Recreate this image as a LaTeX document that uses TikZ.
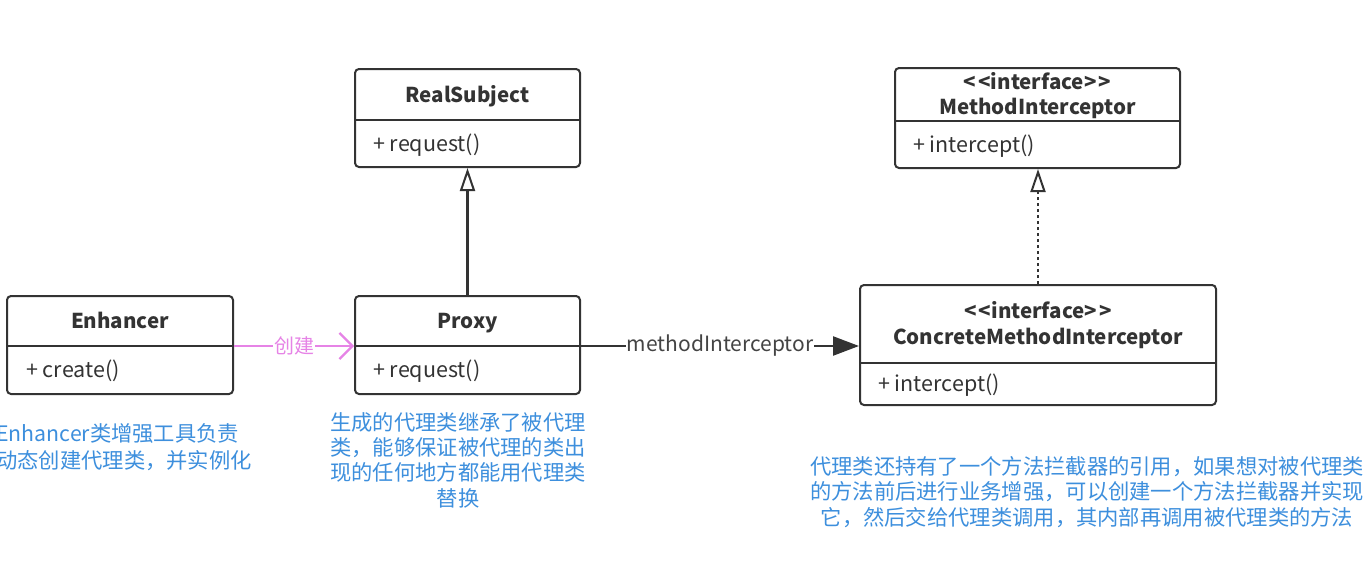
\documentclass[tikz,border=0pt]{standalone}
\usepackage{fontspec}
\setmainfont{Noto Sans CJK SC}
\usetikzlibrary{arrows.meta}
\definecolor{boxline}{HTML}{333333}
\definecolor{notetxt}{HTML}{3D8FDD}
\definecolor{pinkline}{HTML}{E683E6}
\definecolor{lbltxt}{HTML}{444444}
\newcommand{\stereo}[1]{{<}\kern2pt{<}#1{>}\kern2pt{>}}
\tikzset{
  classbox/.style={draw=boxline, line width=2pt, rounded corners=4pt, fill=white, inner sep=0pt},
  divline/.style={draw=boxline, line width=2pt},
  ctitle/.style={font=\fontsize{20.5}{24}\selectfont\bfseries, text=boxline, inner sep=0pt, anchor=base},
  cmember/.style={font=\fontsize{21.5}{24}\selectfont, text=boxline, inner sep=0pt, anchor=base west},
  note/.style={font=\fontsize{21.3}{25.4}\selectfont, text=notetxt, inner sep=0pt},
  inherit/.style={draw=boxline, line width=2.4pt, -{Triangle[open, length=23pt, width=15pt, line width=2pt]}},
  realize/.style={draw=boxline, line width=2.2pt, dash pattern=on 3pt off 3pt, -{Triangle[open, length=23pt, width=15pt, line width=2pt]}},
  assoc/.style={draw=boxline, line width=2.4pt, -{Triangle[length=26pt, width=19pt]}},
  create/.style={draw=pinkline, line width=2.2pt, -{Straight Barb[length=13pt, width=26pt, line width=2.2pt]}},
}
\begin{document}
\begin{tikzpicture}[x=1pt, y=-1pt]
\useasboundingbox (0,0) rectangle (1364,586);
\fill[white] (0,0) rectangle (1364,586);

% RealSubject
\node[classbox, minimum width=225pt, minimum height=98pt] (rs) at (467.5,118) {};
\draw[divline] (rs.west |- 0,120) -- (rs.east |- 0,120);
\node[ctitle] (rsT) at (467.5,102) {RealSubject};
\node[cmember] (rsM) at (373,151) {+ request()};

% MethodInterceptor
\node[classbox, minimum width=285pt, minimum height=100pt] (mi) at (1037.5,118) {};
\draw[divline] (mi.west |- 0,121) -- (mi.east |- 0,121);
\node[ctitle] (miT1) at (1037.5,89) {\stereo{interface}};
\node[ctitle] (miT2) at (1037.5,114) {MethodInterceptor};
\node[cmember] (miM) at (913,152) {+ intercept()};

% Enhancer
\node[classbox, minimum width=226pt, minimum height=98pt] (en) at (120,345) {};
\draw[divline] (en.west |- 0,346) -- (en.east |- 0,346);
\node[ctitle] (enT) at (120,328) {Enhancer};
\node[cmember] (enM) at (26,377) {+ create()};

% Proxy
\node[classbox, minimum width=225pt, minimum height=98pt] (px) at (467.5,345) {};
\draw[divline] (px.west |- 0,346) -- (px.east |- 0,346);
\node[ctitle] (pxT) at (467.5,328) {Proxy};
\node[cmember] (pxM) at (373,377) {+ request()};

% ConcreteMethodInterceptor
\node[classbox, minimum width=356pt, minimum height=120pt] (cm) at (1038,345) {};
\draw[divline] (cm.west |- 0,363) -- (cm.east |- 0,363);
\node[ctitle] (cmT1) at (1038,318) {\stereo{interface}};
\node[ctitle] (cmT2) at (1038,344) {ConcreteMethodInterceptor};
\node[cmember] (cmM) at (878,391) {+ intercept()};

% connectors
\draw[inherit] (px.north) -- (rs.south);
\draw[realize] (cm.north) -- (cm.north |- mi.south);
\draw[create] (en.east |- 0,346) -- node[fill=white, inner sep=1pt, text=pinkline, font=\fontsize{20}{22}\selectfont] (lblC) {创建} (px.west |- 0,346);
\draw[assoc] (px.east |- 0,346) -- node[fill=white, inner sep=1pt, text=lbltxt, font=\fontsize{21}{22}\selectfont] (lblM) {methodInterceptor} (cm.west |- 0,346);

% notes
\node[note, anchor=north west, align=left, font=\fontsize{21.3}{27}\selectfont] (n1) at (-4,423) {Enhancer类增强工具负责\\动态创建代理类，并实例化};
\node[note, anchor=north, align=center] (n2) at (458,412) {生成的代理类继承了被代理\\类，能够保证被代理的类出\\现的任何地方都能用代理类\\替换};
\node[note, anchor=north, align=center] (n3) at (1087,456) {代理类还持有了一个方法拦截器的引用，如果想对被代理类\\的方法前后进行业务增强，可以创建一个方法拦截器并实现\\它，然后交给代理类调用，其内部再调用被代理类的方法};
\end{tikzpicture}
\end{document}
